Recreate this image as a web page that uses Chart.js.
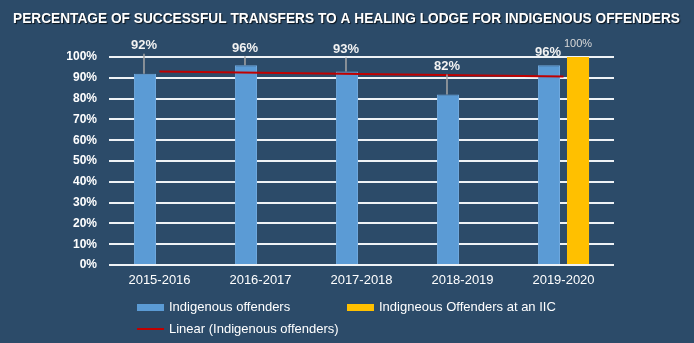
<!DOCTYPE html>
<html>
<head>
<meta charset="utf-8">
<style>
  html, body { margin: 0; padding: 0; background: #2c4b69; }
  #wrap { position: relative; width: 694px; height: 343px; }
</style>
<script src="https://cdn.jsdelivr.net/npm/chart.js@4.4.1/dist/chart.umd.min.js"></script>
</head>
<body>
<div id="wrap"><canvas id="c" width="694" height="343"></canvas></div>
<script>
// Fiscal years on the x axis
const categories = ['2015-2016', '2016-2017', '2017-2018', '2018-2019', '2019-2020'];
// Share of transfers that were successful (%)
const indigenousPct = [92, 96, 93, 82, 96];
const iicPct = [null, null, null, null, 100];

const chartTitle = 'PERCENTAGE OF SUCCESSFUL TRANSFERS TO A HEALING LODGE FOR INDIGENOUS OFFENDERS';
const seriesNames = ['Indigenous offenders', 'Indigneous Offenders at an IIC', 'Linear (Indigenous offenders)'];

// How far (px) each value label sits above its bar; long lifts get a leader line
const indigenousLabelLift = [28, 17, 22, 28, 13];
const iicLabelLift = [null, null, null, null, 13];

// Least-squares trend through the Indigenous offenders series
function linearTrend(values) {
  const n = values.length;
  const xs = values.map((_, i) => i + 1);
  const mx = xs.reduce((a, b) => a + b, 0) / n;
  const my = values.reduce((a, b) => a + b, 0) / n;
  let num = 0, den = 0;
  xs.forEach((x, i) => { num += (x - mx) * (values[i] - my); den += (x - mx) * (x - mx); });
  const slope = num / den;
  return xs.map(x => my + slope * (x - mx));
}
const trendPct = linearTrend(indigenousPct);

const FONT = "'Liberation Sans', Arial, sans-serif";
const BLUE = '#5b9bd5';
const GOLD = '#ffc000';
const RED = '#c00000';

const titlePlugin = {
  id: 'titleDraw',
  afterDraw(chart) {
    const ctx = chart.ctx;
    ctx.save();
    ctx.font = `bold 15.5px ${FONT}`;
    const w = ctx.measureText(chartTitle).width;
    const target = 667;
    const sx = Math.min(1, target / w);
    ctx.translate(346.5, 19);
    ctx.scale(sx, 1);
    ctx.textAlign = 'center';
    ctx.textBaseline = 'middle';
    ctx.shadowColor = 'rgba(0,0,0,0.75)';
    ctx.shadowOffsetX = 1;
    ctx.shadowOffsetY = 1;
    ctx.shadowBlur = 1;
    ctx.fillStyle = '#ffffff';
    ctx.fillText(chartTitle, 0, 0);
    ctx.restore();
  }
};

const valueLabelPlugin = {
  id: 'valueLabels',
  afterDatasetsDraw(chart) {
    const ctx = chart.ctx;
    ctx.save();
    ctx.textAlign = 'center';
    ctx.textBaseline = 'middle';
    // Indigenous offenders labels
    chart.getDatasetMeta(0).data.forEach((bar, i) => {
      const v = indigenousPct[i];
      if (v == null) return;
      const lift = indigenousLabelLift[i];
      const cy = bar.y - lift;
      if (lift >= 15) {
        ctx.strokeStyle = '#a6a6a6';
        ctx.lineWidth = 1.5;
        ctx.beginPath();
        ctx.moveTo(bar.x - 1, cy + 8);
        ctx.lineTo(bar.x - 1, bar.y);
        ctx.stroke();
      }
      ctx.font = `bold 13px ${FONT}`;
      ctx.fillStyle = '#f2f2f2';
      ctx.fillText(v + '%', bar.x - 1, cy);
    });
    // IIC labels
    chart.getDatasetMeta(1).data.forEach((bar, i) => {
      const v = iicPct[i];
      if (v == null) return;
      ctx.font = `11px ${FONT}`;
      ctx.fillStyle = '#d9d9d9';
      ctx.fillText(v + '%', bar.x, bar.y - iicLabelLift[i]);
    });
    ctx.restore();
  }
};

const legendPlugin = {
  id: 'legendDraw',
  afterDraw(chart) {
    const ctx = chart.ctx;
    const ds = chart.data.datasets;
    const spots = [[137, 307.5], [347, 307.5], [137, 329]];
    ctx.save();
    ctx.font = `13px ${FONT}`;
    ctx.textBaseline = 'middle';
    ctx.textAlign = 'left';
    ds.forEach((d, i) => {
      const [x, y] = spots[i];
      if (d.type === 'line') {
        ctx.strokeStyle = d.borderColor;
        ctx.lineWidth = 2;
        ctx.beginPath();
        ctx.moveTo(x, y);
        ctx.lineTo(x + 27, y);
        ctx.stroke();
      } else {
        ctx.fillStyle = d.backgroundColor;
        ctx.fillRect(x, y - 3.5, 27, 7);
      }
      ctx.fillStyle = '#ffffff';
      ctx.fillText(d.label, x + 32, y);
    });
    ctx.restore();
  }
};

new Chart(document.getElementById('c'), {
  type: 'bar',
  data: {
    labels: categories,
    datasets: [
      {
        label: seriesNames[0],
        data: indigenousPct,
        backgroundColor: BLUE,
        borderColor: '#6fa8de',
        borderWidth: 1,
        categoryPercentage: 0.575,
        barPercentage: 0.76,
        order: 1
      },
      {
        label: seriesNames[1],
        data: iicPct,
        backgroundColor: GOLD,
        borderWidth: 0,
        categoryPercentage: 0.575,
        barPercentage: 0.76,
        order: 1
      },
      {
        type: 'line',
        label: seriesNames[2],
        data: trendPct,
        borderColor: RED,
        borderWidth: 2,
        pointRadius: 0,
        fill: false,
        tension: 0,
        order: 0
      }
    ]
  },
  options: {
    responsive: false,
    animation: false,
    devicePixelRatio: 1,
    layout: { padding: { top: 57, right: 80, bottom: 0, left: 0 } },
    plugins: {
      legend: { display: false },
      title: { display: false },
      tooltip: { enabled: false }
    },
    scales: {
      x: {
        grid: { display: false, drawTicks: false },
        border: { display: false },
        ticks: {
          color: '#ffffff',
          font: { family: FONT, size: 13 },
          padding: 8,
          maxRotation: 0
        },
        afterFit(scale) { scale.height = 78; }
      },
      y: {
        min: 0,
        max: 100,
        grid: { color: '#eef2f6', lineWidth: 2, drawTicks: false },
        border: { display: false },
        ticks: {
          stepSize: 10,
          color: '#ffffff',
          font: { family: FONT, size: 12, weight: 'bold' },
          padding: 12,
          callback: v => v + '%'
        },
        afterFit(scale) { scale.width = 109; }
      }
    }
  },
  plugins: [valueLabelPlugin, titlePlugin, legendPlugin]
});
</script>
</body>
</html>
